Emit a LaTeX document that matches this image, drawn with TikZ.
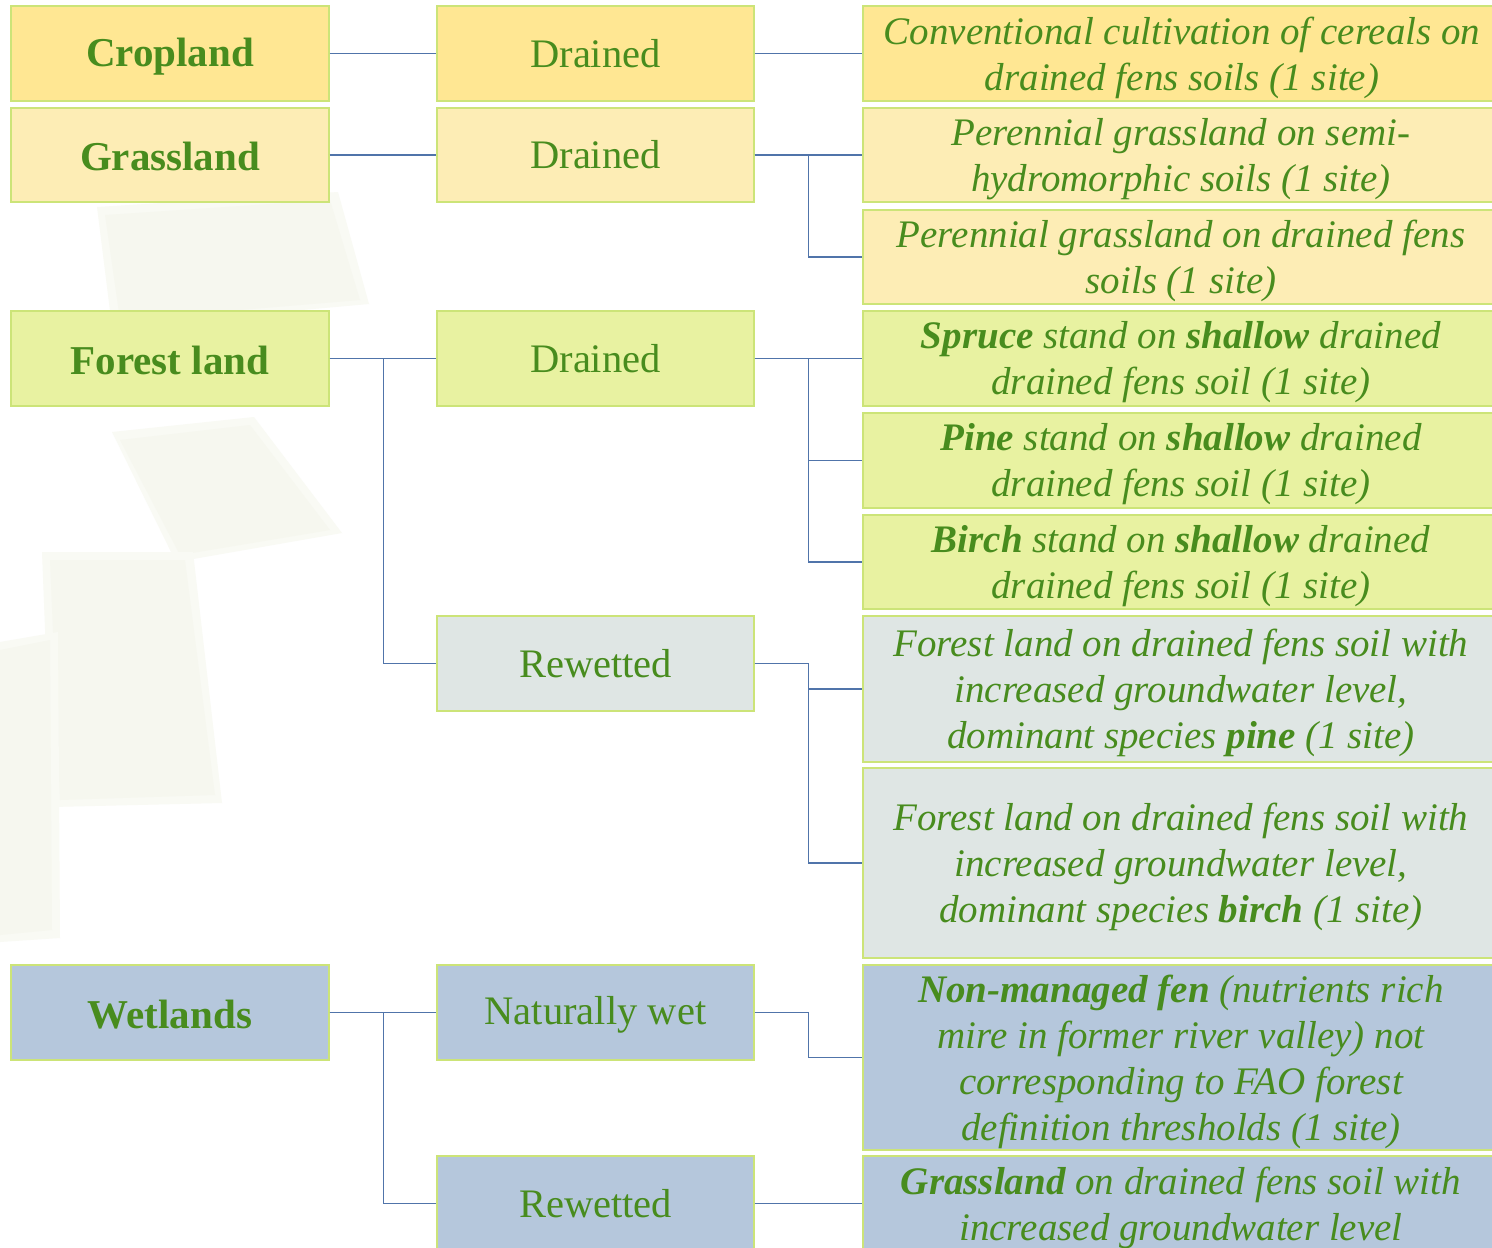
\documentclass[tikz,border=0pt]{standalone}
\usepackage{fontspec}
\setmainfont{Liberation Serif}
\definecolor{txtgreen}{RGB}{72,140,30}
\definecolor{edgegreen}{RGB}{204,228,120}
\definecolor{connblue}{RGB}{80,116,170}
\definecolor{cropfill}{RGB}{255,231,147}
\definecolor{grassfill}{RGB}{253,237,181}
\definecolor{forestfill}{RGB}{232,242,161}
\definecolor{rewetfill}{RGB}{223,230,228}
\definecolor{wetfill}{RGB}{181,199,220}
\definecolor{wmark}{RGB}{246,247,239}
\definecolor{wmarksoft}{RGB}{249,250,244}
\tikzset{
  boxbase/.style={draw=edgegreen, line width=1.4pt, rectangle, inner sep=0pt},
  headbox/.style={boxbase, minimum width=318pt},
  midbox/.style={boxbase, minimum width=317pt},
  descbox/.style={boxbase, minimum width=630pt},
  basetext/.style={inner sep=0pt, text=txtgreen, align=center},
  headtext/.style={basetext, font=\fontsize{41}{48}\selectfont\bfseries},
  midtext/.style={basetext, font=\fontsize{40.5}{48}\selectfont},
  desctext/.style={basetext, font=\fontsize{39}{46}\selectfont\itshape},
  conn/.style={draw=connblue, line width=1.2pt},
}
\begin{document}
\begin{tikzpicture}[x=1pt,y=-1pt]
\useasboundingbox (0,0) rectangle (1492,1248);
\fill[white] (0,0) rectangle (1492,1248);
% faint watermark shapes
\fill[wmarksoft] (97,207) -- (338,192) -- (369,304) -- (112,327) -- cycle;
\fill[wmark] (105,215) -- (330,200) -- (360,300) -- (120,320) -- cycle;
\fill[wmarksoft] (112,432) -- (254,417) -- (342,533) -- (176,562) -- cycle;
\fill[wmark] (120,440) -- (250,425) -- (330,530) -- (180,555) -- cycle;
\fill[wmarksoft] (42,552) -- (193,552) -- (222,803) -- (52,807) -- cycle;
\fill[wmark] (50,560) -- (185,560) -- (215,795) -- (60,800) -- cycle;
\fill[wmarksoft] (0,642) -- (58,632) -- (60,938) -- (0,942) -- cycle;
\fill[wmark] (0,650) -- (50,640) -- (52,930) -- (0,935) -- cycle;

% column 1
\node[headbox, fill=cropfill, minimum height=95pt] (crop) at (170,53.5) {};
\node[headbox, fill=grassfill, minimum height=94pt] (grass) at (170,155) {};
\node[headbox, fill=forestfill, minimum height=95pt] (forest) at (170,358.5) {};
\node[headbox, fill=wetfill, minimum height=95pt] (wet) at (170,1012.5) {};
\node[headtext] (cropt) at ([yshift=-3pt]crop.center) {Cropland};
\node[headtext] (grasst) at ([yshift=-1pt]grass.center) {Grassland};
\node[headtext] (forestt) at ([yshift=-2pt]forest.center) {Forest land};
\node[headtext] (wett) at ([yshift=-2pt]wet.center) {Wetlands};

% column 2
\node[midbox, fill=cropfill, minimum height=95pt] (cropd) at (595.5,53.5) {};
\node[midbox, fill=grassfill, minimum height=94pt] (grassd) at (595.5,155) {};
\node[midbox, fill=forestfill, minimum height=95pt] (forestd) at (595.5,358.5) {};
\node[midbox, fill=rewetfill, minimum height=95pt] (forestr) at (595.5,663.5) {};
\node[midbox, fill=wetfill, minimum height=95pt] (wetn) at (595.5,1012.5) {};
\node[midbox, fill=wetfill, minimum height=95pt] (wetr) at (595.5,1203.5) {};
\node[midtext] (cropdt) at (cropd.center) {Drained};
\node[midtext] (grassdt) at (grassd.center) {Drained};
\node[midtext] (forestdt) at (forestd.center) {Drained};
\node[midtext] (forestrt) at (forestr.center) {Rewetted};
\node[midtext] (wetnt) at ([yshift=-2pt]wetn.center) {Naturally wet};
\node[midtext] (wetrt) at (wetr.center) {Rewetted};

% column 3
\node[descbox, fill=cropfill, minimum height=95pt] (c1) at (1178,53.5) {};
\node[descbox, fill=grassfill, minimum height=94pt] (g1) at (1178,155) {};
\node[descbox, fill=grassfill, minimum height=94pt] (g2) at (1178,257) {};
\node[descbox, fill=forestfill, minimum height=95pt] (f1) at (1178,358.5) {};
\node[descbox, fill=forestfill, minimum height=95pt] (f2) at (1178,460.5) {};
\node[descbox, fill=forestfill, minimum height=94pt] (f3) at (1178,562) {};
\node[descbox, fill=rewetfill, minimum height=146pt] (r1) at (1178,689) {};
\node[descbox, fill=rewetfill, minimum height=190pt] (r2) at (1178,863) {};
\node[descbox, fill=wetfill, minimum height=185pt] (w1) at (1178,1057.5) {};
\node[descbox, fill=wetfill, minimum height=95pt] (w2) at (1178,1203.5) {};

\node[desctext] (c1t) at ([xshift=4pt,yshift=-4pt]c1.center)
  {Conventional cultivation of cereals on\\drained fens soils (1 site)};
\node[desctext] (g1t) at ([xshift=3pt,yshift=-4pt]g1.center)
  {Perennial grassland on semi-\\hydromorphic soils (1 site)};
\node[desctext] (g2t) at ([xshift=3pt,yshift=-4pt]g2.center)
  {Perennial grassland on drained fens\\soils (1 site)};
\node[desctext] (f1t) at ([xshift=3pt,yshift=-4pt]f1.center)
  {\textbf{Spruce} stand on \textbf{shallow} drained\\drained fens soil (1 site)};
\node[desctext] (f2t) at ([xshift=3pt,yshift=-4pt]f2.center)
  {\textbf{Pine} stand on \textbf{shallow} drained\\drained fens soil (1 site)};
\node[desctext] (f3t) at ([xshift=3pt,yshift=-4pt]f3.center)
  {\textbf{Birch} stand on \textbf{shallow} drained\\drained fens soil (1 site)};
\node[desctext] (r1t) at ([xshift=3pt,yshift=-4pt]r1.center)
  {Forest land on drained fens soil with\\increased groundwater level,\\dominant species \textbf{pine} (1 site)};
\node[desctext] (r2t) at ([xshift=3pt,yshift=-4pt]r2.center)
  {Forest land on drained fens soil with\\increased groundwater level,\\dominant species \textbf{birch} (1 site)};
\node[desctext] (w1t) at ([xshift=3pt,yshift=-4pt]w1.center)
  {\textbf{Non-managed fen} (nutrients rich\\mire in former river valley) not\\corresponding to FAO forest\\definition thresholds (1 site)};
\node[desctext] (w2t) at ([xshift=3pt,yshift=-4pt]w2.center)
  {\textbf{Grassland} on drained fens soil with\\increased groundwater level};

% connectors column 1 -> 2
\draw[conn] (crop.east) -- (cropd.west);
\draw[conn] (grass.east) -- (grassd.west);
\draw[conn] (forest.east) -- (forestd.west);
\draw[conn] (forest.east) -- ++(54,0) |- (forestr.west);
\draw[conn] (wet.east) -- (wetn.west);
\draw[conn] (wet.east) -- ++(54,0) |- (wetr.west);

% connectors column 2 -> 3
\draw[conn] (cropd.east) -- (c1.west);
\draw[conn] (grassd.east) -- (g1.west);
\draw[conn] (grassd.east) -- ++(54,0) |- (g2.west);
\draw[conn] (forestd.east) -- (f1.west);
\draw[conn] (forestd.east) -- ++(54,0) |- (f2.west);
\draw[conn] (forestd.east) -- ++(54,0) |- (f3.west);
\draw[conn] (forestr.east) -- ++(54,0) |- (r1.west);
\draw[conn] (forestr.east) -- ++(54,0) |- (r2.west);
\draw[conn] (wetn.east) -- ++(54,0) |- (w1.west);
\draw[conn] (wetr.east) -- (w2.west);
\end{tikzpicture}
\end{document}
